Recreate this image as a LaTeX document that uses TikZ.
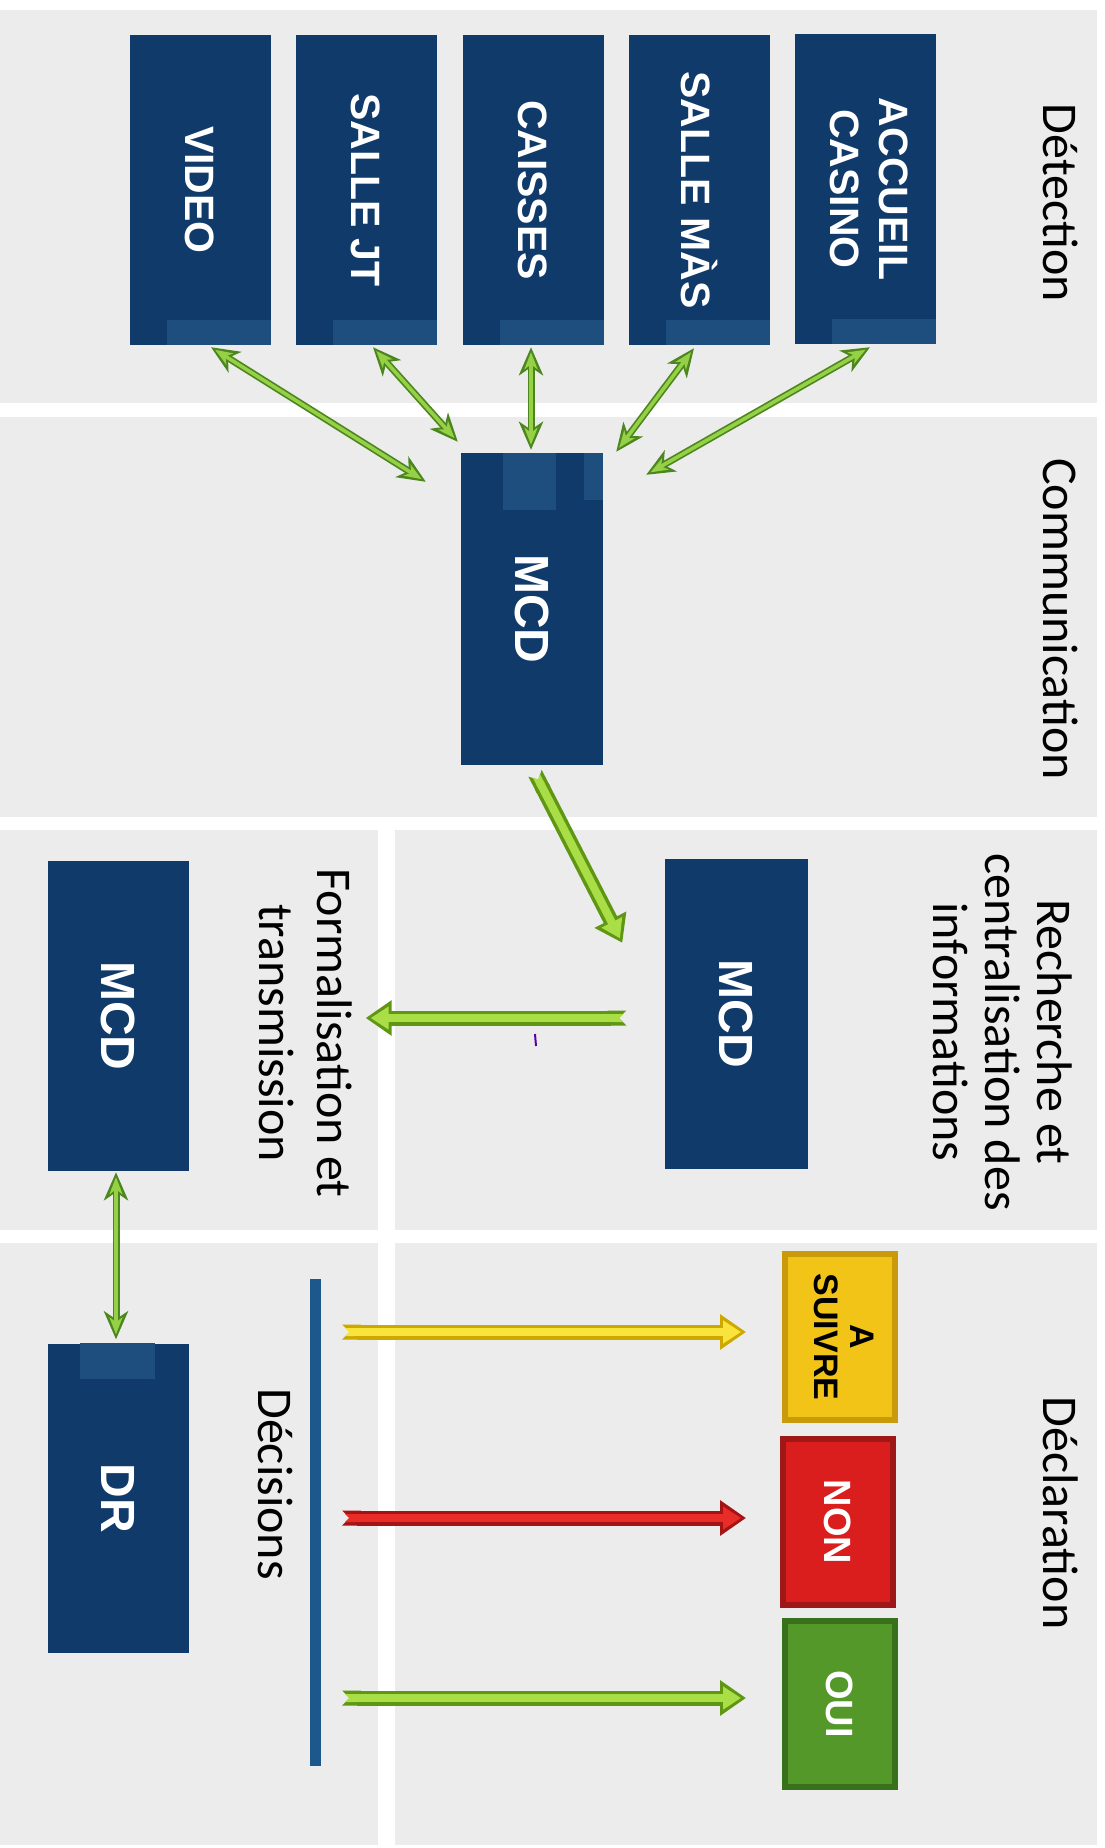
\documentclass[tikz,border=0pt]{standalone}
\usepackage{fontspec}
\setmainfont{Carlito}
\newfontfamily\boxfont{Liberation Sans}
\usetikzlibrary{arrows.meta,calc}
\definecolor{bggray}{RGB}{236,236,236}
\definecolor{navy}{RGB}{16,58,105}
\definecolor{navylight}{RGB}{30,78,126}
\definecolor{gdark}{RGB}{76,134,30}
\definecolor{glight}{RGB}{150,208,70}
\definecolor{bgdark}{RGB}{95,150,20}
\definecolor{bglight}{RGB}{170,222,70}
\definecolor{ydark}{RGB}{205,168,0}
\definecolor{ylight}{RGB}{250,228,60}
\definecolor{rdark}{RGB}{165,20,20}
\definecolor{rlight}{RGB}{232,45,40}
\definecolor{barblue}{RGB}{28,88,140}
\definecolor{yfill}{RGB}{242,196,24}
\definecolor{yedge}{RGB}{200,154,12}
\definecolor{rfill}{RGB}{218,30,30}
\definecolor{redge}{RGB}{158,24,24}
\definecolor{ofill}{RGB}{84,152,42}
\definecolor{oedge}{RGB}{56,112,28}
\newcommand\thinarrow[2]{\draw[thinout] #1 -- #2; \draw[thinin] #1 -- #2;}
\newcommand\blockarrow[4]{\draw[blkout,draw=#3] #1 -- #2; \draw[blkin,draw=#4] #1 -- #2;}
\begin{document}
\begin{tikzpicture}[x=1pt,y=-1pt,
 navybox/.style={fill=navy, minimum width=141pt, minimum height=310pt, inner sep=0pt, text=white, font={\boxfont\bfseries\fontsize{41}{49}\selectfont}},
 mcdbox/.style={navybox, font={\boxfont\bfseries\fontsize{48}{54}\selectfont}},
 decbox/.style={line width=6pt, minimum width=110pt, minimum height=166pt, inner sep=0pt, font={\boxfont\bfseries\fontsize{38}{36}\selectfont}},
 lbl/.style={rotate=-90, align=center, inner sep=0pt, font={\fontsize{50}{58}\selectfont}},
 thinout/.style={draw=gdark, line width=7pt, {Stealth[length=28pt,width=24pt,inset=8pt]}-{Stealth[length=28pt,width=24pt,inset=8pt]}},
 thinin/.style={draw=glight, line width=3.6pt, shorten <=5pt, shorten >=5pt, {Stealth[length=17pt,width=13pt,inset=5pt]}-{Stealth[length=17pt,width=13pt,inset=5pt]}},
 blkout/.style={line width=15pt, {Triangle Cap[reversed]}-{Triangle[length=26pt,width=34pt]}},
 blkin/.style={line width=8pt, shorten <=3pt, shorten >=5pt, {Triangle Cap[reversed]}-{Triangle[length=18pt,width=22pt]}}
]
\useasboundingbox (0,0) rectangle (1104,1848);
\fill[white] (0,0) rectangle (1104,1848);
% background panels
\fill[bggray] (0,10) rectangle (1097,403);
\fill[bggray] (0,417) rectangle (1097,817);
\fill[bggray] (0,830) rectangle (378,1230);
\fill[bggray] (395,830) rectangle (1097,1230);
\fill[bggray] (0,1243) rectangle (378,1845);
\fill[bggray] (395,1243) rectangle (1097,1845);

% detection boxes
\node[navybox] (video) at (200,190) {\rotatebox{-90}{VIDEO}};
\node[navybox] (jt) at (366,190) {\rotatebox{-90}{SALLE JT}};
\node[navybox] (caisses) at (533,190) {\rotatebox{-90}{CAISSES}};
\node[navybox] (mas) at (699,190) {\rotatebox{-90}{SALLE MÀS}};
\node[navybox] (accueil) at (865,189) {\rotatebox{-90}{\begin{tabular}{@{}c@{}}ACCUEIL\\CASINO\end{tabular}}};
\foreach \b in {video,jt,caisses,mas,accueil}
  \fill[navylight] ($(\b.south west)+(38,-25)$) rectangle (\b.south east);

% MCD / DR boxes
\node[mcdbox, minimum width=142pt, minimum height=312pt] (mcd1) at (532,609) {\rotatebox{-90}{MCD}};
\fill[navylight] ($(mcd1.north west)+(42,0)$) rectangle ($(mcd1.north west)+(95,57)$);
\fill[navylight] ($(mcd1.north east)+(-19,0)$) rectangle ($(mcd1.north east)+(0,47)$);
\node[mcdbox, minimum width=143pt] (mcd2) at (736,1014) {\rotatebox{-90}{MCD}};
\node[mcdbox] (mcd3) at (118,1016) {\rotatebox{-90}{MCD}};
\node[mcdbox, minimum height=309pt] (dr) at (118,1498) {\rotatebox{-90}{DR}};
\fill[navylight] ($(dr.north west)+(33,0)$) rectangle ($(dr.north west)+(108,36)$);

% decisions
\node[fill=barblue, minimum width=11pt, minimum height=487pt, inner sep=0pt] (bar) at (315.5,1522.5) {};
\node[decbox, fill=yfill, draw=yedge, text=black, font={\boxfont\bfseries\fontsize{34}{36}\selectfont}] (suivre) at (840,1337) {\rotatebox{-90}{\begin{tabular}{@{}c@{}}A\\SUIVRE\end{tabular}}};
\node[decbox, fill=rfill, draw=redge, text=white] (non) at (838,1522) {\rotatebox{-90}{NON}};
\node[decbox, fill=ofill, draw=oedge, text=white] (oui) at (840,1704) {\rotatebox{-90}{OUI}};

% labels
\node[lbl] (ldet) at (1061,203) {Détection};
\node[lbl] (lcom) at (1061,619) {Communication};
\node[lbl, font={\fontsize{50}{52}\selectfont}] (lrech) at (1003,1032) {Recherche et\\centralisation des\\informations};
\node[lbl] (lform) at (306,1033) {Formalisation et\\transmission};
\node[lbl] (ldecl) at (1061,1513) {Déclaration};
\node[lbl] (ldecis) at (276,1484) {Décisions};

% thin double arrows
\thinarrow{($(video.south)+(11,2)$)}{($(mcd1.north west)+(-35,29)$)}
\thinarrow{($(jt.south)+(7,2)$)}{($(mcd1.north west)+(-3,-11)$)}
\thinarrow{($(caisses.south)+(-2,2)$)}{($(mcd1.north)+(-1,-3)$)}
\thinarrow{($(mas.south)+(-5,3)$)}{($(mcd1.north east)+(13,-1)$)}
\thinarrow{($(accueil.south)+(5,3)$)}{($(mcd1.north east)+(43,22)$)}
\thinarrow{($(mcd3.south)+(-2,1)$)}{($(dr.north)+(-2,-4)$)}

% block arrows
\blockarrow{($(mcd1.south)+(3,8)$)}{($(mcd2.north west)+(-42,84)$)}{bgdark}{bglight}
\blockarrow{($(mcd2.west)+(-38,4)$)}{($(mcd3.east)+(177,2)$)}{bgdark}{bglight}
\blockarrow{($(bar.east |- suivre.west)+(21,-5)$)}{($(suivre.west)+(-36,-5)$)}{ydark}{ylight}
\blockarrow{($(bar.east |- non.west)+(21,-4)$)}{($(non.west)+(-34,-4)$)}{rdark}{rlight}
\blockarrow{($(bar.east |- oui.west)+(21,-6)$)}{($(oui.west)+(-36,-6)$)}{bgdark}{bglight}

% small mark
\draw[violet!70!blue, line width=2pt] (535,1034) -- (536,1046);
\end{tikzpicture}
\end{document}
